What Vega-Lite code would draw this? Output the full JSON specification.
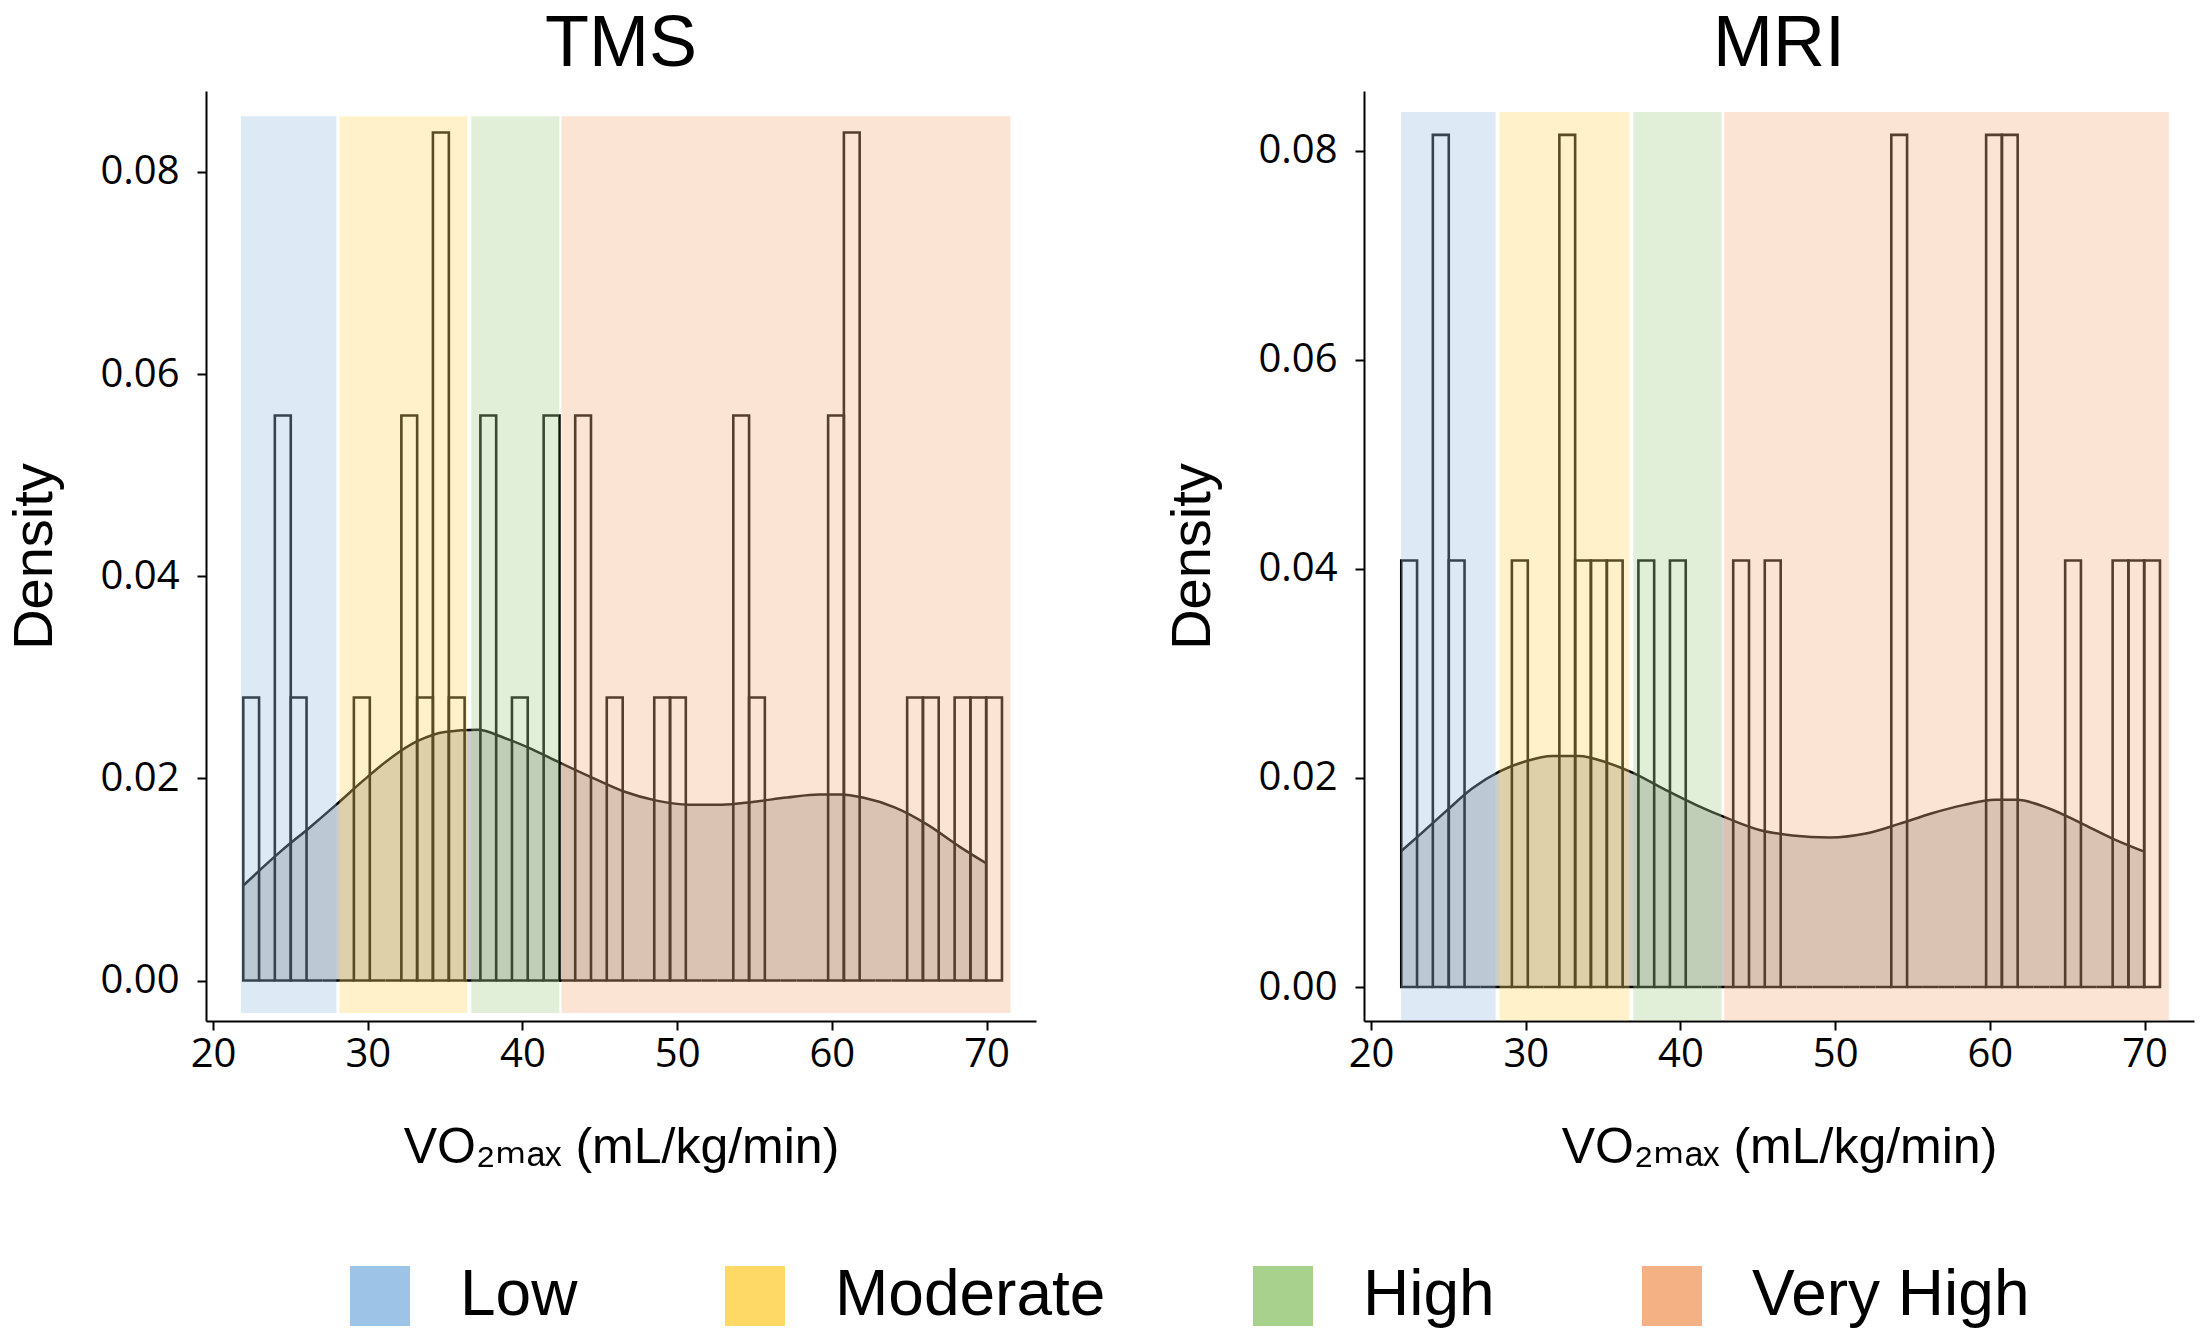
{
  "$schema": "https://vega.github.io/schema/vega-lite/v6.json",
  "background": "white",
  "padding": {"left": 6, "top": 8, "right": 5, "bottom": 5},
  "datasets": {
    "hist": [
      {"panel": "TMS", "x": 21.95, "x2": 22.97, "density": 0.028},
      {"panel": "TMS", "x": 22.97, "x2": 23.99, "density": 0},
      {"panel": "TMS", "x": 23.99, "x2": 25.02, "density": 0.0559},
      {"panel": "TMS", "x": 25.02, "x2": 26.04, "density": 0.028},
      {"panel": "TMS", "x": 26.04, "x2": 27.06, "density": 0},
      {"panel": "TMS", "x": 27.06, "x2": 28.08, "density": 0},
      {"panel": "TMS", "x": 28.08, "x2": 29.10, "density": 0},
      {"panel": "TMS", "x": 29.10, "x2": 30.13, "density": 0.028},
      {"panel": "TMS", "x": 30.13, "x2": 31.15, "density": 0},
      {"panel": "TMS", "x": 31.15, "x2": 32.17, "density": 0},
      {"panel": "TMS", "x": 32.17, "x2": 33.19, "density": 0.0559},
      {"panel": "TMS", "x": 33.19, "x2": 34.21, "density": 0.028},
      {"panel": "TMS", "x": 34.21, "x2": 35.24, "density": 0.0839},
      {"panel": "TMS", "x": 35.24, "x2": 36.26, "density": 0.028},
      {"panel": "TMS", "x": 36.26, "x2": 37.28, "density": 0},
      {"panel": "TMS", "x": 37.28, "x2": 38.30, "density": 0.0559},
      {"panel": "TMS", "x": 38.30, "x2": 39.32, "density": 0},
      {"panel": "TMS", "x": 39.32, "x2": 40.34, "density": 0.028},
      {"panel": "TMS", "x": 40.34, "x2": 41.37, "density": 0},
      {"panel": "TMS", "x": 41.37, "x2": 42.39, "density": 0.0559},
      {"panel": "TMS", "x": 42.39, "x2": 43.41, "density": 0},
      {"panel": "TMS", "x": 43.41, "x2": 44.43, "density": 0.0559},
      {"panel": "TMS", "x": 44.43, "x2": 45.45, "density": 0},
      {"panel": "TMS", "x": 45.45, "x2": 46.48, "density": 0.028},
      {"panel": "TMS", "x": 46.48, "x2": 47.50, "density": 0},
      {"panel": "TMS", "x": 47.50, "x2": 48.52, "density": 0},
      {"panel": "TMS", "x": 48.52, "x2": 49.54, "density": 0.028},
      {"panel": "TMS", "x": 49.54, "x2": 50.56, "density": 0.028},
      {"panel": "TMS", "x": 50.56, "x2": 51.59, "density": 0},
      {"panel": "TMS", "x": 51.59, "x2": 52.61, "density": 0},
      {"panel": "TMS", "x": 52.61, "x2": 53.63, "density": 0},
      {"panel": "TMS", "x": 53.63, "x2": 54.65, "density": 0.0559},
      {"panel": "TMS", "x": 54.65, "x2": 55.67, "density": 0.028},
      {"panel": "TMS", "x": 55.67, "x2": 56.70, "density": 0},
      {"panel": "TMS", "x": 56.70, "x2": 57.72, "density": 0},
      {"panel": "TMS", "x": 57.72, "x2": 58.74, "density": 0},
      {"panel": "TMS", "x": 58.74, "x2": 59.76, "density": 0},
      {"panel": "TMS", "x": 59.76, "x2": 60.78, "density": 0.0559},
      {"panel": "TMS", "x": 60.78, "x2": 61.80, "density": 0.0839},
      {"panel": "TMS", "x": 61.80, "x2": 62.83, "density": 0},
      {"panel": "TMS", "x": 62.83, "x2": 63.85, "density": 0},
      {"panel": "TMS", "x": 63.85, "x2": 64.87, "density": 0},
      {"panel": "TMS", "x": 64.87, "x2": 65.89, "density": 0.028},
      {"panel": "TMS", "x": 65.89, "x2": 66.91, "density": 0.028},
      {"panel": "TMS", "x": 66.91, "x2": 67.94, "density": 0},
      {"panel": "TMS", "x": 67.94, "x2": 68.96, "density": 0.028},
      {"panel": "TMS", "x": 68.96, "x2": 69.98, "density": 0.028},
      {"panel": "TMS", "x": 69.98, "x2": 71.00, "density": 0.028},
      {"panel": "MRI", "x": 21.95, "x2": 22.97, "density": 0.0408},
      {"panel": "MRI", "x": 22.97, "x2": 23.99, "density": 0},
      {"panel": "MRI", "x": 23.99, "x2": 25.02, "density": 0.0815},
      {"panel": "MRI", "x": 25.02, "x2": 26.04, "density": 0.0408},
      {"panel": "MRI", "x": 26.04, "x2": 27.06, "density": 0},
      {"panel": "MRI", "x": 27.06, "x2": 28.08, "density": 0},
      {"panel": "MRI", "x": 28.08, "x2": 29.10, "density": 0},
      {"panel": "MRI", "x": 29.10, "x2": 30.13, "density": 0.0408},
      {"panel": "MRI", "x": 30.13, "x2": 31.15, "density": 0},
      {"panel": "MRI", "x": 31.15, "x2": 32.17, "density": 0},
      {"panel": "MRI", "x": 32.17, "x2": 33.19, "density": 0.0815},
      {"panel": "MRI", "x": 33.19, "x2": 34.21, "density": 0.0408},
      {"panel": "MRI", "x": 34.21, "x2": 35.24, "density": 0.0408},
      {"panel": "MRI", "x": 35.24, "x2": 36.26, "density": 0.0408},
      {"panel": "MRI", "x": 36.26, "x2": 37.28, "density": 0},
      {"panel": "MRI", "x": 37.28, "x2": 38.30, "density": 0.0408},
      {"panel": "MRI", "x": 38.30, "x2": 39.32, "density": 0},
      {"panel": "MRI", "x": 39.32, "x2": 40.34, "density": 0.0408},
      {"panel": "MRI", "x": 40.34, "x2": 41.37, "density": 0},
      {"panel": "MRI", "x": 41.37, "x2": 42.39, "density": 0},
      {"panel": "MRI", "x": 42.39, "x2": 43.41, "density": 0},
      {"panel": "MRI", "x": 43.41, "x2": 44.43, "density": 0.0408},
      {"panel": "MRI", "x": 44.43, "x2": 45.45, "density": 0},
      {"panel": "MRI", "x": 45.45, "x2": 46.48, "density": 0.0408},
      {"panel": "MRI", "x": 46.48, "x2": 47.50, "density": 0},
      {"panel": "MRI", "x": 47.50, "x2": 48.52, "density": 0},
      {"panel": "MRI", "x": 48.52, "x2": 49.54, "density": 0},
      {"panel": "MRI", "x": 49.54, "x2": 50.56, "density": 0},
      {"panel": "MRI", "x": 50.56, "x2": 51.59, "density": 0},
      {"panel": "MRI", "x": 51.59, "x2": 52.61, "density": 0},
      {"panel": "MRI", "x": 52.61, "x2": 53.63, "density": 0},
      {"panel": "MRI", "x": 53.63, "x2": 54.65, "density": 0.0815},
      {"panel": "MRI", "x": 54.65, "x2": 55.67, "density": 0},
      {"panel": "MRI", "x": 55.67, "x2": 56.70, "density": 0},
      {"panel": "MRI", "x": 56.70, "x2": 57.72, "density": 0},
      {"panel": "MRI", "x": 57.72, "x2": 58.74, "density": 0},
      {"panel": "MRI", "x": 58.74, "x2": 59.76, "density": 0},
      {"panel": "MRI", "x": 59.76, "x2": 60.78, "density": 0.0815},
      {"panel": "MRI", "x": 60.78, "x2": 61.80, "density": 0.0815},
      {"panel": "MRI", "x": 61.80, "x2": 62.83, "density": 0},
      {"panel": "MRI", "x": 62.83, "x2": 63.85, "density": 0},
      {"panel": "MRI", "x": 63.85, "x2": 64.87, "density": 0},
      {"panel": "MRI", "x": 64.87, "x2": 65.89, "density": 0.0408},
      {"panel": "MRI", "x": 65.89, "x2": 66.91, "density": 0},
      {"panel": "MRI", "x": 66.91, "x2": 67.94, "density": 0},
      {"panel": "MRI", "x": 67.94, "x2": 68.96, "density": 0.0408},
      {"panel": "MRI", "x": 68.96, "x2": 69.98, "density": 0.0408},
      {"panel": "MRI", "x": 69.98, "x2": 71.00, "density": 0.0408}
    ],
    "kde": [
      {"panel": "TMS", "x": 21.95, "density": 0.0094},
      {"panel": "TMS", "x": 24.46, "density": 0.0129},
      {"panel": "TMS", "x": 26.21, "density": 0.0151},
      {"panel": "TMS", "x": 27.96, "density": 0.0174},
      {"panel": "TMS", "x": 29.72, "density": 0.0198},
      {"panel": "TMS", "x": 31.47, "density": 0.022},
      {"panel": "TMS", "x": 33.23, "density": 0.0237},
      {"panel": "TMS", "x": 34.98, "density": 0.0246},
      {"panel": "TMS", "x": 37.09, "density": 0.0248},
      {"panel": "TMS", "x": 38.84, "density": 0.024},
      {"panel": "TMS", "x": 40.6, "density": 0.0229},
      {"panel": "TMS", "x": 42.35, "density": 0.0216},
      {"panel": "TMS", "x": 44.46, "density": 0.0201},
      {"panel": "TMS", "x": 46.56, "density": 0.0187},
      {"panel": "TMS", "x": 48.67, "density": 0.0178},
      {"panel": "TMS", "x": 50.77, "density": 0.0174},
      {"panel": "TMS", "x": 52.88, "density": 0.0174},
      {"panel": "TMS", "x": 54.98, "density": 0.0177},
      {"panel": "TMS", "x": 57.09, "density": 0.0181},
      {"panel": "TMS", "x": 59.19, "density": 0.0184},
      {"panel": "TMS", "x": 60.6, "density": 0.0184},
      {"panel": "TMS", "x": 62.0, "density": 0.0181},
      {"panel": "TMS", "x": 64.1, "density": 0.0171},
      {"panel": "TMS", "x": 66.2, "density": 0.0154},
      {"panel": "TMS", "x": 68.3, "density": 0.0132},
      {"panel": "TMS", "x": 69.98, "density": 0.0116},
      {"panel": "MRI", "x": 21.95, "density": 0.013},
      {"panel": "MRI", "x": 23.1, "density": 0.0145},
      {"panel": "MRI", "x": 24.83, "density": 0.0168},
      {"panel": "MRI", "x": 26.55, "density": 0.019},
      {"panel": "MRI", "x": 28.28, "density": 0.0206},
      {"panel": "MRI", "x": 30.0, "density": 0.0216},
      {"panel": "MRI", "x": 31.72, "density": 0.0221},
      {"panel": "MRI", "x": 33.45, "density": 0.0221},
      {"panel": "MRI", "x": 35.17, "density": 0.0215},
      {"panel": "MRI", "x": 36.9, "density": 0.0205},
      {"panel": "MRI", "x": 38.97, "density": 0.0189},
      {"panel": "MRI", "x": 41.03, "density": 0.0174},
      {"panel": "MRI", "x": 43.1, "density": 0.0161},
      {"panel": "MRI", "x": 45.17, "density": 0.015},
      {"panel": "MRI", "x": 47.24, "density": 0.0145},
      {"panel": "MRI", "x": 49.66, "density": 0.0143},
      {"panel": "MRI", "x": 52.07, "density": 0.0147},
      {"panel": "MRI", "x": 54.14, "density": 0.0156},
      {"panel": "MRI", "x": 56.21, "density": 0.0166},
      {"panel": "MRI", "x": 58.28, "density": 0.0174},
      {"panel": "MRI", "x": 60.34, "density": 0.0179},
      {"panel": "MRI", "x": 61.72, "density": 0.0179},
      {"panel": "MRI", "x": 63.79, "density": 0.0171},
      {"panel": "MRI", "x": 65.86, "density": 0.0157},
      {"panel": "MRI", "x": 67.93, "density": 0.0142},
      {"panel": "MRI", "x": 69.9, "density": 0.013}
    ],
    "bands": [
      {"panel": "TMS", "level": "Low", "x": 21.8, "x2": 27.97, "top": 0.0855, "bottom": -0.0032},
      {"panel": "TMS", "level": "Moderate", "x": 28.17, "x2": 36.42, "top": 0.0855, "bottom": -0.0032},
      {"panel": "TMS", "level": "High", "x": 36.69, "x2": 42.38, "top": 0.0855, "bottom": -0.0032},
      {"panel": "TMS", "level": "Very High", "x": 42.52, "x2": 71.55, "top": 0.0855, "bottom": -0.0032},
      {"panel": "MRI", "level": "Low", "x": 21.94, "x2": 28.05, "top": 0.0837, "bottom": -0.0032},
      {"panel": "MRI", "level": "Moderate", "x": 28.3, "x2": 36.7, "top": 0.0837, "bottom": -0.0032},
      {"panel": "MRI", "level": "High", "x": 36.95, "x2": 42.65, "top": 0.0837, "bottom": -0.0032},
      {"panel": "MRI", "level": "Very High", "x": 42.83, "x2": 71.57, "top": 0.0837, "bottom": -0.0032}
    ]
  },
  "spacing": 128,
  "hconcat": [
    {
      "title": {"text": "TMS", "offset": 10},
      "width": 830,
      "height": 930,
      "layer": [
        {
          "data": {"name": "kde"},
          "transform": [{"filter": "datum.panel == 'TMS'"}],
          "mark": {"type": "area", "color": "black", "opacity": 0.2, "interpolate": "monotone"},
          "encoding": {
            "x": {"field": "x", "type": "quantitative", "title": "VO₂ₘₐₓ (mL/kg/min)",
              "scale": {"domain": [19.54, 73.2], "nice": false, "zero": false},
              "axis": {"values": [20, 30, 40, 50, 60, 70]}},
            "y": {"field": "density", "type": "quantitative", "title": "Density",
              "scale": {"domain": [-0.004, 0.088], "nice": false, "zero": false},
              "axis": {"values": [0, 0.02, 0.04, 0.06, 0.08], "format": ".2f"}},
            "y2": {"datum": 0}
          }
        },
        {
          "data": {"name": "kde"},
          "transform": [{"filter": "datum.panel == 'TMS'"}],
          "mark": {"type": "line", "color": "black", "strokeWidth": 2.5, "interpolate": "monotone"},
          "encoding": {
            "x": {"field": "x", "type": "quantitative", "title": "VO₂ₘₐₓ (mL/kg/min)"},
            "y": {"field": "density", "type": "quantitative", "title": "Density"}
          }
        },
        {
          "data": {"name": "hist"},
          "transform": [{"filter": "datum.panel == 'TMS'"}],
          "mark": {"type": "rect", "fill": "transparent", "stroke": "black", "strokeWidth": 2.6},
          "encoding": {
            "x": {"field": "x", "type": "quantitative", "title": "VO₂ₘₐₓ (mL/kg/min)"},
            "x2": {"field": "x2"},
            "y": {"field": "density", "type": "quantitative", "title": "Density"},
            "y2": {"datum": 0}
          }
        },
        {
          "data": {"name": "bands"},
          "transform": [{"filter": "datum.panel == 'TMS'"}],
          "mark": {"type": "rect", "opacity": 0.35},
          "encoding": {
            "x": {"field": "x", "type": "quantitative", "title": "VO₂ₘₐₓ (mL/kg/min)"},
            "x2": {"field": "x2"},
            "y": {"field": "top", "type": "quantitative", "title": "Density"},
            "y2": {"field": "bottom"},
            "color": {"field": "level", "type": "nominal",
              "scale": {"domain": ["Low", "Moderate", "High", "Very High"], "range": ["#9DC3E6", "#FFD966", "#A9D18E", "#F4B183"]},
              "legend": {"title": null, "orient": "none", "legendX": 142, "legendY": 1173, "direction": "horizontal"}}
          }
        }
      ]
    },
    {
      "title": {"text": "MRI", "offset": 10},
      "width": 830,
      "height": 930,
      "layer": [
        {
          "data": {"name": "kde"},
          "transform": [{"filter": "datum.panel == 'MRI'"}],
          "mark": {"type": "area", "color": "black", "opacity": 0.2, "interpolate": "monotone"},
          "encoding": {
            "x": {"field": "x", "type": "quantitative", "title": "VO₂ₘₐₓ (mL/kg/min)",
              "scale": {"domain": [19.54, 73.2], "nice": false, "zero": false},
              "axis": {"values": [20, 30, 40, 50, 60, 70]}},
            "y": {"field": "density", "type": "quantitative", "title": "Density",
              "scale": {"domain": [-0.00325, 0.0857], "nice": false, "zero": false},
              "axis": {"values": [0, 0.02, 0.04, 0.06, 0.08], "format": ".2f"}},
            "y2": {"datum": 0}
          }
        },
        {
          "data": {"name": "kde"},
          "transform": [{"filter": "datum.panel == 'MRI'"}],
          "mark": {"type": "line", "color": "black", "strokeWidth": 2.5, "interpolate": "monotone"},
          "encoding": {
            "x": {"field": "x", "type": "quantitative", "title": "VO₂ₘₐₓ (mL/kg/min)"},
            "y": {"field": "density", "type": "quantitative", "title": "Density"}
          }
        },
        {
          "data": {"name": "hist"},
          "transform": [{"filter": "datum.panel == 'MRI'"}],
          "mark": {"type": "rect", "fill": "transparent", "stroke": "black", "strokeWidth": 2.6},
          "encoding": {
            "x": {"field": "x", "type": "quantitative", "title": "VO₂ₘₐₓ (mL/kg/min)"},
            "x2": {"field": "x2"},
            "y": {"field": "density", "type": "quantitative", "title": "Density"},
            "y2": {"datum": 0}
          }
        },
        {
          "data": {"name": "bands"},
          "transform": [{"filter": "datum.panel == 'MRI'"}],
          "mark": {"type": "rect", "opacity": 0.35},
          "encoding": {
            "x": {"field": "x", "type": "quantitative", "title": "VO₂ₘₐₓ (mL/kg/min)"},
            "x2": {"field": "x2"},
            "y": {"field": "top", "type": "quantitative", "title": "Density"},
            "y2": {"field": "bottom"},
            "color": {"field": "level", "type": "nominal",
              "scale": {"domain": ["Low", "Moderate", "High", "Very High"], "range": ["#9DC3E6", "#FFD966", "#A9D18E", "#F4B183"]},
              "legend": {"title": null, "orient": "none", "legendX": 142, "legendY": 1173, "direction": "horizontal"}}
          }
        }
      ]
    }
  ],
  "resolve": {"scale": {"color": "shared"}, "legend": {"color": "shared"}},
  "config": {
    "view": {"stroke": null},
    "axis": {
      "grid": false,
      "domainColor": "black",
      "domainWidth": 2,
      "tickColor": "black",
      "tickWidth": 2,
      "tickSize": 9,
      "labelFont": "Open Sans",
      "labelFontSize": 40,
      "labelColor": "black",
      "titleFont": "Liberation Sans, DejaVu Sans",
      "titleFontWeight": "normal",
      "titleColor": "black"
    },
    "axisX": {"titleFontSize": 50, "labelPadding": 4, "titlePadding": 48},
    "axisY": {"titleFontSize": 56, "labelPadding": 18, "titlePadding": 36},
    "title": {"font": "Liberation Sans", "fontSize": 72, "fontWeight": "normal", "color": "black", "anchor": "middle"},
    "legend": {
      "symbolType": "square",
      "symbolSize": 3600,
      "symbolOpacity": 1,
      "symbolStrokeWidth": 0,
      "labelFont": "Liberation Sans",
      "labelFontSize": 64,
      "labelColor": "black",
      "labelOffset": 48,
      "columnPadding": 145,
      "padding": 0,
      "labelLimit": 400
    }
  }
}
